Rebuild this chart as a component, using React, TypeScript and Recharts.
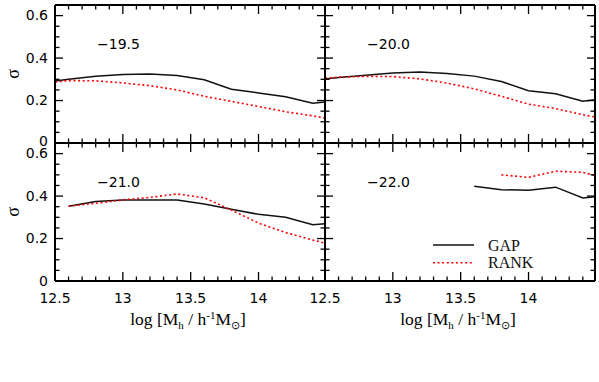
import React from 'react';
import { LineChart, Line, XAxis, YAxis, Legend, Label } from 'recharts';

// halo mass bins, log[Mh / h^-1 Msun]
const massBins = [12.4, 12.6, 12.8, 13.0, 13.2, 13.4, 13.6, 13.8, 14.0, 14.2, 14.4, 14.6];

// scatter sigma for each magnitude threshold
const gap195 = [0.283, 0.300, 0.314, 0.323, 0.325, 0.318, 0.298, 0.253, 0.236, 0.218, 0.187, 0.200];
const rank195 = [0.280, 0.294, 0.293, 0.283, 0.270, 0.250, 0.220, 0.196, 0.172, 0.147, 0.128, 0.105];
const gap200 = [0.294, 0.308, 0.319, 0.330, 0.334, 0.327, 0.315, 0.290, 0.246, 0.232, 0.197, 0.212];
const rank200 = [0.300, 0.310, 0.314, 0.313, 0.302, 0.282, 0.255, 0.220, 0.183, 0.162, 0.133, 0.110];
const gap210 = [null, 0.352, 0.374, 0.382, 0.382, 0.382, 0.363, 0.338, 0.314, 0.300, 0.265, 0.275];
const rank210 = [null, 0.352, 0.366, 0.382, 0.394, 0.410, 0.392, 0.334, 0.273, 0.228, 0.193, 0.160];
const gap220 = [null, null, null, null, null, null, 0.446, 0.430, 0.427, 0.442, 0.391, 0.405];
const rank220 = [null, null, null, null, null, null, null, 0.500, 0.488, 0.517, 0.512, 0.478];

const panelLabels = ['\u221219.5', '\u221220.0', '\u221221.0', '\u221222.0'];
const seriesNames = ['GAP', 'RANK'];

const xTicks = [12.5, 12.6, 12.7, 12.8, 12.9, 13.0, 13.1, 13.2, 13.3, 13.4, 13.5, 13.6, 13.7, 13.8, 13.9, 14.0, 14.1, 14.2, 14.3, 14.4];
const xMajor = [12.5, 13, 13.5, 14];
const xTickLabels = ['12.5', '13', '13.5', '14'];
const yTicks = [0, 0.05, 0.1, 0.15, 0.2, 0.25, 0.3, 0.35, 0.4, 0.45, 0.5, 0.55, 0.6];
const yMajor = [0, 0.2, 0.4, 0.6];
const yTickLabels = ['0', '0.2', '0.4', '0.6'];

const X_DOMAIN = [12.5, 14.49];
const Y_DOMAIN = [0, 0.65];

const PANEL_W = 270;
const PANEL_H = 138;
const LEFT_W = 55;
const RIGHT_W = 4;
const TOP_H = 4;
const BOTTOM_H = 60;

const tickFont = '"DejaVu Sans", sans-serif';
const serifFont = '"Liberation Serif", "Times New Roman", serif';

const findLabel = (v: number, majors: number[], labels: string[]) => {
  const i = majors.findIndex((m) => Math.abs(m - v) < 1e-6);
  return i === -1 ? null : labels[i];
};

const panels = [
  { left: 55, top: 4.5, gap: gap195, rank: rank195, label: panelLabels[0], xLabels: false, yLabels: true, legend: false },
  { left: 325, top: 4.5, gap: gap200, rank: rank200, label: panelLabels[1], xLabels: false, yLabels: false, legend: false },
  { left: 55, top: 142.5, gap: gap210, rank: rank210, label: panelLabels[2], xLabels: true, yLabels: true, legend: false },
  { left: 325, top: 142.5, gap: gap220, rank: rank220, label: panelLabels[3], xLabels: true, yLabels: false, legend: true },
];

const lineStyles: Record<string, { stroke: string; dash?: string; width: number }> = {
  gap: { stroke: '#111', width: 1.5 },
  rank: { stroke: '#ff0000', dash: '2 2.6', width: 1.6 },
};

const renderLegend = (props: any) => {
  const items = props.payload || [];
  return (
    <svg width={110} height={40}>
      {items.map((it: any, i: number) => {
        const s = lineStyles[it.dataKey];
        const y = 9 + i * 17.7;
        return (
          <g key={it.dataKey}>
            <line x1={0} x2={41} y1={y} y2={y} stroke={s.stroke} strokeWidth={s.width} strokeDasharray={s.dash} />
            <text x={55} y={y + 5.5} fontFamily={serifFont} fontSize={16} fill="#111">{it.value}</text>
          </g>
        );
      })}
    </svg>
  );
};

const Panel = ({ p }: { p: typeof panels[number] }) => {
  const data = massBins.map((m, i) => ({ mass: m, gap: p.gap[i], rank: p.rank[i] }));
  const width = LEFT_W + PANEL_W + RIGHT_W;
  const height = TOP_H + PANEL_H + BOTTOM_H;

  const bottomTick = (t: any) => {
    const lab = findLabel(t.payload.value, xMajor, xTickLabels);
    return (
      <g>
        <line x1={t.x} x2={t.x} y1={t.y} y2={t.y - (lab ? 9 : 4.5)} stroke="#000" strokeWidth={1.3} />
        {p.xLabels && lab && (
          <text x={t.x} y={t.y + 22} textAnchor="middle" fontFamily={tickFont} fontSize={14} fill="#000">{lab}</text>
        )}
      </g>
    );
  };
  const topTick = (t: any) => {
    const lab = findLabel(t.payload.value, xMajor, xTickLabels);
    return <line x1={t.x} x2={t.x} y1={t.y} y2={t.y + (lab ? 9 : 4.5)} stroke="#000" strokeWidth={1.3} />;
  };
  const leftTick = (t: any) => {
    const lab = findLabel(t.payload.value, yMajor, yTickLabels);
    // the zero label of the upper row sits a little higher so it clears the 0.6 below it
    const dy = lab === '0' && p.top < 100 ? 3 : 4.5;
    return (
      <g>
        <line x1={t.x} x2={t.x + (lab ? 8 : 4.5)} y1={t.y} y2={t.y} stroke="#000" strokeWidth={1.3} />
        {p.yLabels && lab && (
          <text x={t.x - 7} y={t.y + dy} textAnchor="end" fontFamily={tickFont} fontSize={14} fill="#000">{lab}</text>
        )}
      </g>
    );
  };
  const rightTick = (t: any) => {
    const lab = findLabel(t.payload.value, yMajor, yTickLabels);
    return <line x1={t.x} x2={t.x - (lab ? 8 : 4.5)} y1={t.y} y2={t.y} stroke="#000" strokeWidth={1.3} />;
  };

  return (
    <div style={{ position: 'absolute', left: p.left - LEFT_W, top: p.top - TOP_H }}>
      <LineChart width={width} height={height} data={data} margin={{ top: 0, right: 0, bottom: 0, left: 0 }}>
        <XAxis
          dataKey="mass" type="number" domain={X_DOMAIN} allowDataOverflow ticks={xTicks} interval={0}
          height={BOTTOM_H} tickSize={0} tickMargin={0} tickLine={false} tick={bottomTick}
          axisLine={{ stroke: '#000', strokeWidth: 2 }}
        >
          {p.xLabels && (
            <Label
              content={(lp: any) => {
                const vb = lp.viewBox;
                return (
                  <text x={vb.x + vb.width / 2 - 2} y={vb.y + 44} textAnchor="middle" fontFamily={serifFont} fontSize={17.5} fill="#000">
                    <tspan>log [M</tspan>
                    <tspan fontSize={11} dy={4}>h</tspan>
                    <tspan dy={-4}> / h</tspan>
                    <tspan fontSize={11} dy={-6}>-1</tspan>
                    <tspan dy={6}>M</tspan>
                    <tspan fontSize={11} dy={4}>{'\u2299'}</tspan>
                    <tspan dy={-4}>]</tspan>
                  </text>
                );
              }}
            />
          )}
        </XAxis>
        <XAxis
          xAxisId="top" orientation="top" dataKey="mass" type="number" domain={X_DOMAIN} allowDataOverflow
          ticks={xTicks} interval={0} height={TOP_H} tickSize={0} tickMargin={0} tickLine={false} tick={topTick}
          axisLine={{ stroke: '#000', strokeWidth: 2 }}
        >
          <Label
            content={(lp: any) => {
              const vb = lp.viewBox;
              return (
                <text x={vb.x + 42} y={vb.y + 47.5} fontFamily={tickFont} fontSize={14} fill="#000">{p.label}</text>
              );
            }}
          />
        </XAxis>
        <YAxis
          type="number" domain={Y_DOMAIN} allowDataOverflow ticks={yTicks} interval={0} width={LEFT_W}
          tickSize={0} tickMargin={0} tickLine={false} tick={leftTick} axisLine={{ stroke: '#000', strokeWidth: 2 }}
        >
          {p.yLabels && (
            <Label
              content={(lp: any) => {
                const vb = lp.viewBox;
                const cy = vb.y + vb.height / 2;
                return (
                  <text x={12.7} y={cy} transform={`rotate(-90 12.7 ${cy})`} textAnchor="middle" dominantBaseline="central"
                    fontFamily={serifFont} fontSize={18} fill="#000">{'\u03c3'}</text>
                );
              }}
            />
          )}
        </YAxis>
        <YAxis
          yAxisId="right" orientation="right" type="number" domain={Y_DOMAIN} allowDataOverflow ticks={yTicks}
          interval={0} width={RIGHT_W} tickSize={0} tickMargin={0} tickLine={false} tick={rightTick}
          axisLine={{ stroke: '#000', strokeWidth: 2 }}
        />
        <Line dataKey="gap" name={seriesNames[0]} type="linear" stroke={lineStyles.gap.stroke} strokeWidth={lineStyles.gap.width}
          dot={false} activeDot={false} isAnimationActive={false} />
        <Line dataKey="rank" name={seriesNames[1]} type="linear" stroke={lineStyles.rank.stroke} strokeWidth={lineStyles.rank.width}
          strokeDasharray={lineStyles.rank.dash} dot={false} activeDot={false} isAnimationActive={false} />
        {p.legend && (
          <Legend
            layout="horizontal" verticalAlign="middle" align="center" content={renderLegend}
            wrapperStyle={{ position: 'absolute', left: 433 - (p.left - LEFT_W), top: 236 - (p.top - TOP_H), width: 110, height: 40 }}
          />
        )}
      </LineChart>
    </div>
  );
};

export default function App() {
  return (
    <div style={{ position: 'absolute', left: 0, top: 0, width: 599, height: 382, background: '#fff', overflow: 'hidden' }}>
      {panels.map((p, i) => (
        <Panel key={i} p={p} />
      ))}
    </div>
  );
}
